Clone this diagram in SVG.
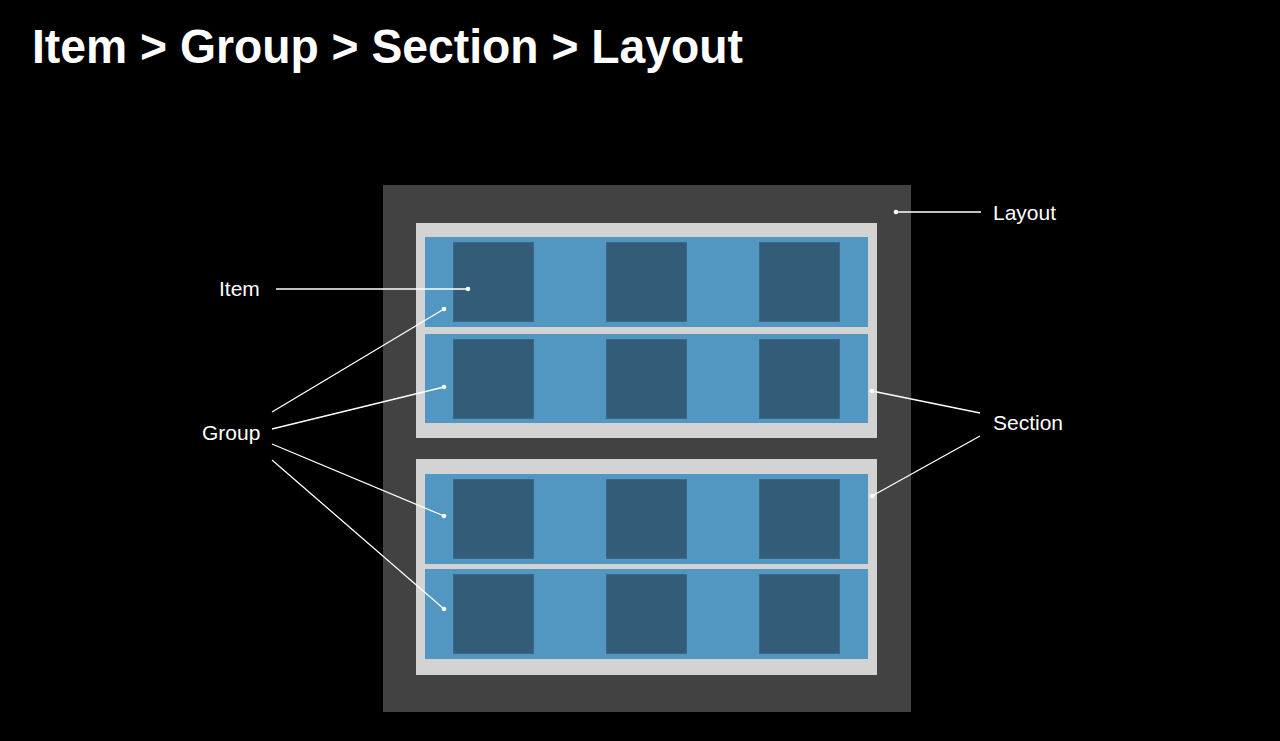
<svg xmlns="http://www.w3.org/2000/svg" width="1280" height="741" viewBox="0 0 1280 741">
<defs>
<style>
.layout{fill:#424242}
.section{fill:#d3d3d3}
.group{fill:#5297c2}
.item{fill:#335c78;stroke:#3a6886;stroke-width:1}
.lbl{font-family:"Liberation Sans",Arial,sans-serif;font-size:21px;fill:#ffffff}
.title{font-family:"Liberation Sans",Arial,sans-serif;font-weight:bold;font-size:49px;fill:#ffffff}
.conn line{stroke:#ffffff;stroke-width:1.3}
.conn circle{fill:#ffffff}
</style>
</defs>
<rect width="1280" height="741" fill="#000000"/>
<text class="title" x="32" y="63" textLength="711" lengthAdjust="spacingAndGlyphs">Item &gt; Group &gt; Section &gt; Layout</text>
<g id="layout">
<rect class="layout" x="383" y="185" width="528" height="527"/>
</g>
<g id="section1">
<rect class="section" x="416" y="223" width="461" height="215"/>
</g>
<g id="section2">
<rect class="section" x="416" y="459" width="461" height="216"/>
</g>
<g id="group1">
<rect class="group" x="425" y="237" width="443" height="90"/>
<rect class="item" x="453.5" y="242.5" width="80" height="79"/>
<rect class="item" x="606.5" y="242.5" width="80" height="79"/>
<rect class="item" x="759.5" y="242.5" width="80" height="79"/>
</g>
<g id="group2">
<rect class="group" x="425" y="334" width="443" height="89"/>
<rect class="item" x="453.5" y="339.5" width="80" height="79"/>
<rect class="item" x="606.5" y="339.5" width="80" height="79"/>
<rect class="item" x="759.5" y="339.5" width="80" height="79"/>
</g>
<g id="group3">
<rect class="group" x="425" y="474" width="443" height="90"/>
<rect class="item" x="453.5" y="479.5" width="80" height="79"/>
<rect class="item" x="606.5" y="479.5" width="80" height="79"/>
<rect class="item" x="759.5" y="479.5" width="80" height="79"/>
</g>
<g id="group4">
<rect class="group" x="425" y="569" width="443" height="90"/>
<rect class="item" x="453.5" y="574.5" width="80" height="79"/>
<rect class="item" x="606.5" y="574.5" width="80" height="79"/>
<rect class="item" x="759.5" y="574.5" width="80" height="79"/>
</g>
<g id="connectors" class="conn">
<line x1="276" y1="289" x2="468" y2="289"/>
<circle cx="468" cy="289" r="2.3"/>
<line x1="272" y1="412" x2="444" y2="309"/>
<circle cx="444" cy="309" r="2.3"/>
<line x1="272" y1="429" x2="444" y2="387"/>
<circle cx="444" cy="387" r="2.3"/>
<line x1="272" y1="444" x2="444" y2="516"/>
<circle cx="444" cy="516" r="2.3"/>
<line x1="272" y1="460" x2="444" y2="609"/>
<circle cx="444" cy="609" r="2.3"/>
<line x1="980" y1="413" x2="872" y2="391"/>
<circle cx="872" cy="391" r="2.3"/>
<line x1="980" y1="436" x2="872" y2="496"/>
<circle cx="872" cy="496" r="2.3"/>
<line x1="981" y1="212" x2="896" y2="212"/>
<circle cx="896" cy="212" r="2.3"/>
</g>
<g id="labels">
<text class="lbl" x="219" y="296">Item</text>
<text class="lbl" x="202" y="440">Group</text>
<text class="lbl" x="993" y="220">Layout</text>
<text class="lbl" x="993" y="430">Section</text>
</g>
</svg>
